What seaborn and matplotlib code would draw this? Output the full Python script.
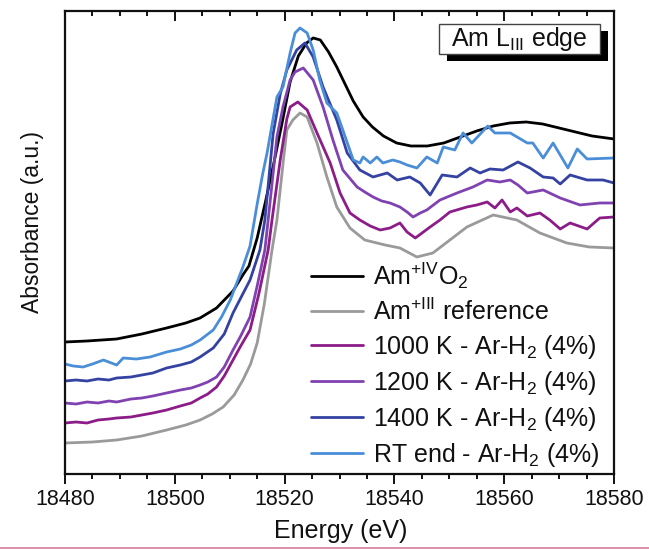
import numpy as np
import pandas as pd
import seaborn as sns
import matplotlib
matplotlib.use("Agg")
import matplotlib.pyplot as plt
import matplotlib.lines as mlines
from matplotlib.lines import Line2D
from matplotlib.patches import Rectangle
from matplotlib.ticker import MultipleLocator, FuncFormatter

# ---------------- data (Energy in eV, absorbance in a.u., offset-stacked) ----------------
e_amo2 = [18480, 18484, 18489.4, 18494, 18498.5, 18502, 18504.6, 18507.6, 18510.6, 18512.5,
          18513.5, 18515, 18516.5, 18518, 18519.5, 18521, 18522.5, 18524, 18525.2, 18526.5,
          18528, 18529.5, 18531, 18532.5, 18534.3, 18536, 18538, 18540.4, 18543, 18546,
          18549, 18552, 18555, 18558, 18561, 18564, 18567, 18570, 18573, 18576, 18580]
a_amo2 = [1.32, 1.33, 1.35, 1.40, 1.46, 1.51, 1.56, 1.66, 1.83, 2.00,
          2.08, 2.36, 2.72, 3.10, 3.50, 3.92, 4.18, 4.31, 4.36, 4.34,
          4.22, 4.07, 3.90, 3.73, 3.57, 3.47, 3.38, 3.31, 3.28, 3.28,
          3.31, 3.37, 3.43, 3.48, 3.51, 3.52, 3.50, 3.46, 3.42, 3.38, 3.35]

e_am3 = [18480, 18485, 18489.4, 18494, 18498.5, 18502, 18504.6, 18506.8, 18508.8, 18510.8,
         18512.4, 18513.8, 18515.0, 18516.3, 18517.7, 18518.6, 18519.7, 18520.4, 18521.5, 18522.8,
         18524.1, 18525.9, 18527.7, 18529.5, 18531.9, 18534.6, 18538.3, 18541.0, 18544.1, 18547.0,
         18550.1, 18553.2, 18558.0, 18562.3, 18566.5, 18571.4, 18575.5, 18580]
a_am3 = [0.31, 0.32, 0.34, 0.38, 0.44, 0.49, 0.54, 0.60, 0.67, 0.79,
         0.94, 1.10, 1.31, 1.70, 2.24, 2.54, 3.10, 3.44, 3.54, 3.61,
         3.57, 3.31, 2.97, 2.67, 2.46, 2.34, 2.29, 2.26, 2.17, 2.21,
         2.34, 2.47, 2.59, 2.54, 2.41, 2.31, 2.27, 2.26]

e_1000 = [18480, 18482, 18484, 18486, 18488, 18489.4, 18492, 18494, 18496, 18498.5,
          18501, 18503, 18504.6, 18506, 18507.6, 18509, 18510.6, 18512, 18513.7, 18515.3,
          18517.0, 18517.7, 18519.2, 18520.4, 18521.0, 18522.4, 18524.1, 18525.9, 18528.3, 18530.1,
          18531.9, 18533.7, 18535.6, 18537.4, 18539.2, 18541.0, 18542.3, 18543.8, 18546.5, 18548.3,
          18550.1, 18553.2, 18555.0, 18556.9, 18558.3, 18559.6, 18561.1, 18562.3, 18564.2, 18566.5,
          18568.3, 18570.2, 18572.0, 18575.1, 18577.4, 18580]
a_1000 = [0.51, 0.52, 0.51, 0.54, 0.55, 0.56, 0.57, 0.59, 0.61, 0.64,
          0.68, 0.71, 0.76, 0.80, 0.87, 0.98, 1.14, 1.28, 1.44, 1.80,
          2.24, 2.54, 3.14, 3.55, 3.67, 3.72, 3.64, 3.41, 3.11, 2.81,
          2.61, 2.54, 2.48, 2.44, 2.46, 2.51, 2.42, 2.36, 2.47, 2.54,
          2.62, 2.67, 2.69, 2.72, 2.66, 2.74, 2.62, 2.66, 2.58, 2.61,
          2.54, 2.45, 2.51, 2.45, 2.56, 2.57]

e_1200 = [18480, 18482, 18484, 18486, 18488, 18489.4, 18492, 18494, 18496, 18498.5,
          18501, 18503, 18504.6, 18506, 18507.6, 18509, 18510.6, 18512, 18513.7, 18515.0,
          18516.4, 18517.0, 18517.7, 18518.6, 18519.7, 18521.0, 18521.9, 18523.4, 18525.2, 18527.0,
          18528.8, 18530.6, 18533.2, 18534.6, 18536.1, 18537.7, 18539.2, 18541.0, 18542.3, 18543.4,
          18544.7, 18545.9, 18548.3, 18551.4, 18554.3, 18556.9, 18559.2, 18561.1, 18562.5, 18564.2,
          18567.1, 18570.2, 18573.8, 18577.4, 18580]
a_1200 = [0.71, 0.70, 0.72, 0.71, 0.73, 0.72, 0.75, 0.76, 0.78, 0.81,
          0.84, 0.86, 0.89, 0.92, 0.97, 1.07, 1.24, 1.38, 1.57, 1.88,
          2.24, 2.54, 2.90, 3.37, 3.67, 3.94, 4.02, 4.06, 3.94, 3.67,
          3.34, 3.04, 2.87, 2.82, 2.77, 2.73, 2.71, 2.67, 2.62, 2.57,
          2.61, 2.64, 2.74, 2.81, 2.87, 2.94, 2.92, 2.94, 2.89, 2.81,
          2.84, 2.76, 2.69, 2.71, 2.71]

e_1400 = [18480, 18482, 18484, 18486, 18488, 18489.4, 18492, 18494, 18496, 18498.5,
          18501, 18503, 18504.6, 18507.0, 18509, 18510.6, 18512, 18513.7, 18515.5, 18516.4,
          18517.9, 18519.2, 18520.4, 18522.2, 18523.7, 18525.2, 18527.0, 18529.5, 18531.4, 18533.7,
          18536.1, 18538.7, 18540.5, 18542.8, 18544.7, 18546.5, 18548.7, 18551.4, 18553.8, 18555.6,
          18557.4, 18559.8, 18562.5, 18564.7, 18567.1, 18568.9, 18570.2, 18572.0, 18575.1, 18578.0,
          18580]
a_1400 = [0.93, 0.94, 0.93, 0.95, 0.94, 0.96, 0.97, 0.99, 1.01, 1.06,
          1.09, 1.12, 1.17, 1.26, 1.40, 1.61, 1.76, 1.94, 2.24, 2.54,
          3.40, 3.80, 4.04, 4.24, 4.31, 4.17, 3.87, 3.54, 3.21, 3.04,
          2.97, 3.01, 2.94, 2.97, 2.91, 2.79, 2.99, 2.97, 3.06, 3.01,
          3.05, 3.04, 3.12, 3.06, 2.97, 2.96, 2.90, 2.99, 2.94, 2.94,
          2.91]

e_rt = [18480, 18481.5, 18483.3, 18485, 18487.0, 18489.4, 18490.6, 18493, 18495.5, 18498.5,
        18501, 18503, 18504.6, 18507.0, 18508.5, 18510.1, 18512.4, 18513.7, 18515.0, 18516.0,
        18516.8, 18518.6, 18519.7, 18521.0, 18521.9, 18522.8, 18524.1, 18525.2, 18526.4, 18527.7,
        18529.5, 18530.6, 18532.5, 18533.7, 18534.3, 18535.6, 18536.8, 18537.9, 18539.7, 18541.0,
        18542.3, 18544.1, 18545.9, 18547.8, 18548.9, 18551.0, 18552.5, 18554.1, 18557.0, 18558.3,
        18561.1, 18564.2, 18565.2, 18567.1, 18568.9, 18571.6, 18573.3, 18575.1, 18580]
a_rt = [1.10, 1.08, 1.07, 1.10, 1.14, 1.09, 1.16, 1.15, 1.17, 1.22,
        1.25, 1.29, 1.34, 1.44, 1.57, 1.74, 2.07, 2.28, 2.70, 3.00,
        3.21, 3.77, 3.87, 4.21, 4.41, 4.46, 4.41, 4.24, 3.94, 3.71,
        3.61, 3.44, 3.14, 3.11, 3.17, 3.11, 3.17, 3.11, 3.14, 3.12,
        3.09, 3.06, 3.17, 3.11, 3.27, 3.24, 3.41, 3.31, 3.48, 3.41,
        3.41, 3.31, 3.31, 3.16, 3.31, 3.06, 3.25, 3.15, 3.16]

labels = [r'Am$^{\mathrm{+IV}}$O$_{\mathrm{2}}$',
          r'Am$^{\mathrm{+III}}$ reference',
          r'1000 K - Ar-H$_{\mathrm{2}}$ (4%)',
          r'1200 K - Ar-H$_{\mathrm{2}}$ (4%)',
          r'1400 K - Ar-H$_{\mathrm{2}}$ (4%)',
          r'RT end - Ar-H$_{\mathrm{2}}$ (4%)']
colors = ['#000000', '#9a9a9a', '#8c1c88', '#7f42b0', '#3442a2', '#4a8ed8']
series = [(e_amo2, a_amo2), (e_am3, a_am3), (e_1000, a_1000),
          (e_1200, a_1200), (e_1400, a_1400), (e_rt, a_rt)]

frames = []
for lab, (e, a) in zip(labels, series):
    frames.append(pd.DataFrame({'energy': e, 'absorbance': a, 'sample': lab}))
df = pd.concat(frames, ignore_index=True)

# ---------------- style ----------------
sns.set_theme(style='ticks')
plt.rcParams['font.family'] = ['Liberation Sans', 'DejaVu Sans']
plt.rcParams['mathtext.fontset'] = 'custom'
plt.rcParams['mathtext.rm'] = 'Liberation Sans'
plt.rcParams['mathtext.it'] = 'Liberation Sans:italic'
plt.rcParams['mathtext.bf'] = 'Liberation Sans:bold'
plt.rcParams['xtick.top'] = True
plt.rcParams['xtick.bottom'] = True

fig = plt.figure(figsize=(6.49, 5.49), dpi=100)
ax = fig.add_axes([0.1002, 0.1366, 0.8459, 0.8434])

sns.lineplot(data=df, x='energy', y='absorbance', hue='sample', hue_order=labels,
             palette=dict(zip(labels, colors)), estimator=None, sort=True,
             linewidth=2.0, legend=False, ax=ax)

ax.set_xlim(18480, 18580)
ax.set_ylim(0, 4.63)
ax.set_yticks([])
ax.xaxis.set_major_locator(MultipleLocator(20))
ax.xaxis.set_minor_locator(MultipleLocator(5))
ax.tick_params(axis='x', which='major', direction='out', length=7, width=1.4,
               labelsize=15.5, pad=4, colors='#111111', bottom=True, top=True)
ax.tick_params(axis='x', which='minor', direction='out', length=3.8, width=1.4,
               bottom=True, top=True, colors='#111111')
ax.tick_params(axis='y', left=False, right=False)
ax.xaxis.set_major_formatter(FuncFormatter(lambda v, p: f'{v:.0f}'))

# top-edge ticks point down into the plot (bottom ones point down out of it)
for tk in ax.xaxis.get_major_ticks() + ax.xaxis.get_minor_ticks():
    tk.tick2line.set_marker(mlines.TICKDOWN)

for s in ax.spines.values():
    s.set_visible(True)
    s.set_color('#111111')
    s.set_linewidth(1.6)

ax.set_xlabel('Energy (eV)', fontsize=18, color='#111111')
ax.set_ylabel('Absorbance (a.u.)', fontsize=16.5, color='#111111')
ax.xaxis.set_label_coords(0.503, -0.097)
ax.yaxis.set_label_coords(-0.038, 0.544)

handles = [Line2D([], [], color=c, lw=2.0) for c in colors]
leg = ax.legend(handles, labels, loc='upper left', bbox_to_anchor=(0.448, 0.462),
                frameon=False, fontsize=18, handlelength=2.1, handletextpad=0.4,
                labelspacing=0.32, borderpad=0, borderaxespad=0)
for t in leg.get_texts():
    t.set_color('#111111')

# title box with shadow
ax.add_patch(Rectangle((0.696, 0.892), 0.293, 0.0648, transform=ax.transAxes,
                       facecolor='black', edgecolor='black', lw=0, zorder=5))
ax.add_patch(Rectangle((0.681, 0.907), 0.293, 0.0648, transform=ax.transAxes,
                       facecolor='white', edgecolor='#444444', lw=1.0, zorder=6))
ax.text(0.8275, 0.9395, r'Am L$_{\mathrm{III}}$ edge', transform=ax.transAxes,
        ha='center', va='center', fontsize=18, color='#111111', zorder=7)

# thin pink rule at the bottom edge of the image
fig.add_artist(Line2D([0, 1], [0.0027, 0.0027], transform=fig.transFigure,
                      color='#d77d9c', lw=1.2))

fig.savefig('out.png', dpi=100)
